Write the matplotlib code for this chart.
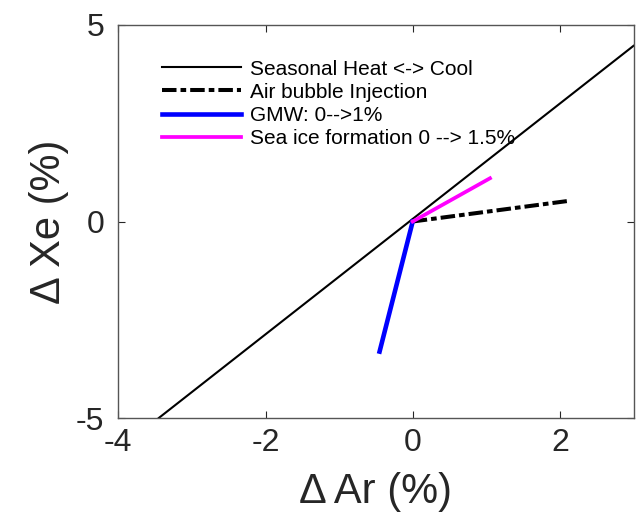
import matplotlib.pyplot as plt

plt.rcParams['font.family'] = ['Liberation Sans', 'DejaVu Sans']
plt.rcParams['axes.unicode_minus'] = False

# line end points (Delta Ar %, Delta Xe %)
seasonal_ar = [-3.45, 3.0]
seasonal_xe = [-5.0, 4.47]
bubble_ar = [0.0, 2.14]
bubble_xe = [0.0, 0.53]
gmw_ar = [0.0, -0.45]
gmw_xe = [0.0, -3.31]
seaice_ar = [0.0, 1.05]
seaice_xe = [0.0, 1.10]

labels = ['Seasonal Heat <-> Cool', 'Air bubble Injection',
          'GMW: 0-->1%', 'Sea ice formation 0 --> 1.5%']

axcol = '#262626'

fig = plt.figure(figsize=(6.36, 5.19), dpi=100)
ax = fig.add_axes([118.3 / 636, 1 - 418 / 519, (633.5 - 118.3) / 636, (418 - 25) / 519])

ax.plot(seasonal_ar, seasonal_xe, color='black', lw=1.5, label=labels[0])
ax.plot(bubble_ar, bubble_xe, color='black', lw=2.9, dashes=(3.6, 1.0, 1.4, 1.0), label=labels[1])
ax.plot(gmw_ar, gmw_xe, color='#0000ff', lw=3.3, label=labels[2])
ax.plot(seaice_ar, seaice_xe, color='#ff00ff', lw=2.7, label=labels[3])

ax.set_xlim(-4, 3)
ax.set_ylim(-5, 5)
ax.set_xticks([-4, -2, 0, 2])
ax.set_yticks([-5, 0, 5])
ax.tick_params(direction='in', length=5, width=0.8, colors=axcol, labelsize=23,
               top=True, right=True)
ax.tick_params(axis='x', pad=7)
ax.tick_params(axis='y', pad=10)
for s in ax.spines.values():
    s.set_color('#555555')
    s.set_linewidth(1.0)

ax.set_xlabel('Δ Ar (%)', fontsize=30, color=axcol, labelpad=10)
ax.set_ylabel('Δ Xe (%)', fontsize=30, color=axcol, labelpad=5)

leg = ax.legend(loc='upper left', bbox_to_anchor=(0.084, 0.912), frameon=False,
                fontsize=15, handlelength=3.8, handletextpad=0.45,
                labelspacing=0.2, borderpad=0, borderaxespad=0)

fig.savefig('out.png', dpi=100)
